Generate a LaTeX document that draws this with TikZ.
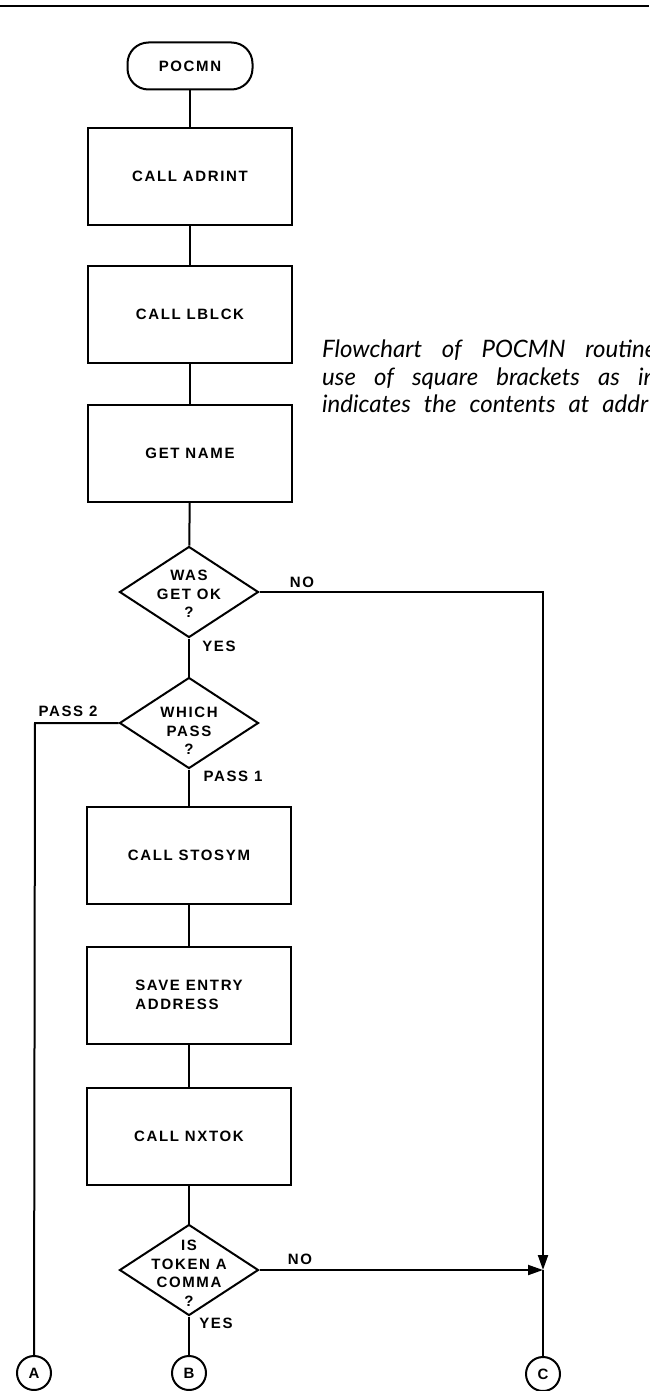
\documentclass[tikz,border=0pt]{standalone}
\usepackage{fontspec}
\usetikzlibrary{shapes.geometric,arrows.meta}
\newfontfamily\flowfont[LetterSpace=11]{Liberation Sans}
\newfontfamily\capfont{Lato}
\begin{document}
\begin{tikzpicture}[x=1pt,y=-1pt,
  flowtxt/.style={font=\flowfont\bfseries\fontsize{15}{18.5}\selectfont},
  proc/.style={draw,line width=2pt,rectangle,minimum width=204pt,minimum height=97pt,inner sep=0pt,align=left,flowtxt},
  term/.style={draw,line width=2pt,rectangle,rounded corners=21pt,minimum width=125pt,minimum height=47pt,inner sep=0pt,flowtxt},
  dec/.style={draw,diamond,line width=2pt,minimum width=139pt,minimum height=91pt,inner sep=0pt},
  dectxt/.style={align=center,inner sep=0pt,flowtxt},
  conn/.style={draw,circle,line width=2pt,minimum size=34pt,inner sep=0pt,flowtxt},
  lbl/.style={inner sep=0pt,flowtxt},
  wire/.style={line width=2pt},
  arr/.style={line width=2pt,-{Triangle[length=15pt,width=10pt]}},
  captxt/.style={inner sep=0pt,font=\capfont\itshape\fontsize{24}{27}\selectfont}]
\useasboundingbox (0,0) rectangle (649,1391);
% top rule
\draw[line width=2.5pt] (0,6) -- (649,6);
% nodes
\node[term] (t) at (190,66) {POCMN};
\node[proc] (b1) at (190,176.5) {CALL ADRINT};
\node[proc] (b2) at (190,314.5) {CALL LBLCK};
\node[proc] (b3) at (190,453.5) {GET NAME};
\node[dec] (d1) at (189,592) {};
\node[dectxt] (d1t) at (189,594) {WAS\\GET OK\\?};
\node[dec] (d2) at (189,723) {};
\node[dectxt] (d2t) at (189,731) {WHICH\\PASS\\?};
\node[proc] (b4) at (189,855.5) {CALL STOSYM};
\node[proc] (b5) at (189,995) {SAVE ENTRY\\ADDRESS};
\node[proc] (b6) at (189,1136) {CALL NXTOK};
\node[dec] (d3) at (189,1270) {};
\node[dectxt] (d3t) at (189,1273) {IS\\TOKEN A\\COMMA\\?};
\node[conn] (cA) at (34,1373) {A};
\node[conn] (cB) at (189,1373) {B};
\node[conn] (cC) at (543,1374) {C};
\coordinate (j1) at (543,592);
\coordinate (j2) at (543,1270);
\coordinate (p2) at (35,723);
% labels
\node[lbl] (lno1) at (302,582) {NO};
\node[lbl] (lyes1) at (219,646) {YES};
\node[lbl] (lp1) at (233,776) {PASS 1};
\node[lbl] (lp2) at (68,711) {PASS 2};
\node[lbl] (lno2) at (300,1259) {NO};
\node[lbl] (lyes2) at (216,1323) {YES};
% connectors
\draw[wire] (t) -- (b1);
\draw[wire] (b1) -- (b2);
\draw[wire] (b2) -- (b3);
\draw[wire] (b3) -- (d1);
\draw[wire] (d1) -- (d2);
\draw[wire] (d2) -- (b4);
\draw[wire] (b4) -- (b5);
\draw[wire] (b5) -- (b6);
\draw[wire] (b6) -- (d3);
\draw[wire] (d3) -- (cB);
\draw[arr] (d1.east) -- (j1) -- (j2);
\draw[arr] (d3.east) -- (j2);
\draw[wire] (j2) -- (cC);
\draw[wire] (d2.west) -- (p2) -- (cA);
% caption
\node[captxt,anchor=base west] (cap1) at (322,357) {\makebox[334pt][s]{Flowchart of POCMN routine}};
\node[captxt,anchor=base west] (cap2) at (322,385) {\makebox[334pt][s]{use of square brackets as in}};
\node[captxt,anchor=base west] (cap3) at (322,412) {\makebox[326pt][s]{indicates the contents at addr}};
\end{tikzpicture}
\end{document}
